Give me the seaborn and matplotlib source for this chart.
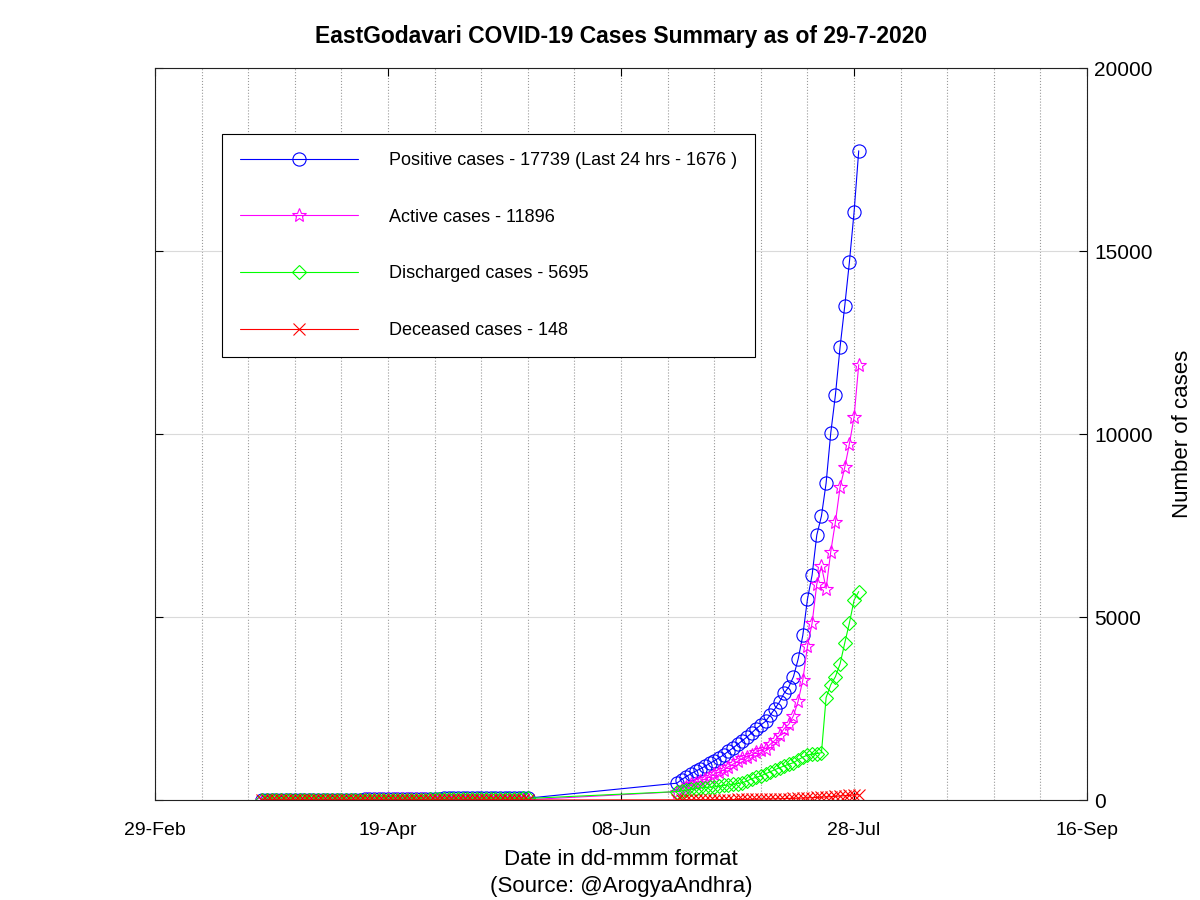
import numpy as np
import pandas as pd
import matplotlib
matplotlib.use("Agg")
import matplotlib.pyplot as plt
import matplotlib.dates as mdates
import seaborn as sns

# ── Données ─────────────────────────────────────────────────────────────
# deux périodes : 23-Mar -> 19-May, puis 20-Jun -> 29-Jul (rien entre les deux)
early_dates = pd.date_range("2020-03-23", "2020-05-19", freq="D")
late_dates = pd.date_range("2020-06-20", "2020-07-29", freq="D")

positive = [
    # 23-31 Mar
    1, 1, 1, 1, 1, 1, 1, 1, 9,
    # Apr
    9, 9, 11, 11, 11, 11, 11, 11, 11, 11, 12, 12, 12, 17, 17, 17, 17, 17, 24, 26,
    26, 31, 32, 34, 34, 37, 39, 39, 39, 40,
    # 1-19 May
    42, 42, 42, 44, 45, 45, 46, 46, 46, 46, 46, 46, 46, 47, 48, 48, 49, 49, 51,
    # 20-30 Jun
    460, 560, 640, 720, 790, 850, 920, 1000, 1070, 1150, 1230,
    # 1-29 Jul
    1330, 1420, 1520, 1620, 1720, 1830, 1950, 2050, 2150, 2320,
    2490, 2680, 2920, 3090, 3370, 3850, 4500, 5490, 6150, 7240,
    7760, 8660, 10030, 11070, 12380, 13500, 14700, 16063, 17739,
]
active = [
    1, 1, 1, 1, 1, 1, 1, 1, 9,
    9, 9, 11, 11, 11, 11, 11, 11, 11, 11, 12, 12, 12, 16, 16, 16, 15, 15, 21, 23,
    22, 27, 26, 26, 26, 27, 27, 25, 23, 22,
    22, 20, 18, 18, 17, 15, 15, 14, 13, 12, 11, 10, 9, 9, 8, 8, 8, 7, 8,
    226, 306, 365, 425, 474, 514, 573, 642, 702, 761, 820,
    909, 978, 1056, 1135, 1183, 1231, 1309, 1367, 1404, 1522,
    1629, 1766, 1952, 2069, 2305, 2701, 3276, 4202, 4836, 5900,
    6393, 5776, 6788, 7599, 8550, 9091, 9732, 10465, 11896,
]
discharged = [
    0, 0, 0, 0, 0, 0, 0, 0, 0,
    0, 0, 0, 0, 0, 0, 0, 0, 0, 0, 0, 0, 0, 1, 1, 1, 2, 2, 3, 3,
    4, 4, 6, 8, 8, 10, 12, 14, 16, 18,
    20, 22, 24, 26, 28, 30, 31, 32, 33, 34, 35, 36, 37, 38, 40, 40, 41, 42, 43,
    230, 250, 270, 290, 310, 330, 340, 350, 360, 380, 400,
    410, 430, 450, 470, 520, 580, 620, 660, 720, 770,
    830, 880, 930, 980, 1020, 1100, 1170, 1230, 1250, 1270,
    1290, 2800, 3150, 3370, 3720, 4290, 4840, 5460, 5695,
]
deceased = [
    0, 0, 0, 0, 0, 0, 0, 0, 0,
    0, 0, 0, 0, 0, 0, 0, 0, 0, 0, 0, 0, 0, 0, 0, 0, 0, 0, 0, 0,
    0, 0, 0, 0, 0, 0, 0, 0, 0, 0,
    0, 0, 0, 0, 0, 0, 0, 0, 0, 0, 0, 0, 0, 0, 0, 0, 0, 0, 0,
    4, 4, 5, 5, 6, 6, 7, 8, 8, 9, 10,
    11, 12, 14, 15, 17, 19, 21, 23, 26, 28,
    31, 34, 38, 41, 45, 49, 54, 58, 64, 70,
    77, 84, 92, 101, 110, 119, 128, 138, 148,
]

labels = [
    "Positive cases - 17739 (Last 24 hrs - 1676 )",
    "Active cases - 11896",
    "Discharged cases - 5695",
    "Deceased cases - 148",
]

df = pd.DataFrame({
    "date": early_dates.append(late_dates),
    "positive": positive,
    "active": active,
    "discharged": discharged,
    "deceased": deceased,
})

# ── Style ───────────────────────────────────────────────────────────────
sns.set_style("white")
plt.rcParams["font.family"] = ["Liberation Sans", "DejaVu Sans"]
plt.rcParams["text.color"] = "black"
plt.rcParams["axes.labelcolor"] = "black"
plt.rcParams["xtick.color"] = "black"
plt.rcParams["ytick.color"] = "black"

fig = plt.figure(figsize=(12, 9), dpi=100)
ax = fig.add_axes([0.1292, 0.1111, 0.7767, 0.8133])

series = [
    ("positive", labels[0], "#0000ff", "o", 9.5),
    ("active", labels[1], "#ff00ff", "*", 10.5),
    ("discharged", labels[2], "#00ff00", "D", 7.5),
    ("deceased", labels[3], "#ff0000", "x", 8.5),
]
for col, lab, color, marker, ms in series:
    sns.lineplot(data=df, x="date", y=col, ax=ax, color=color, marker=marker,
                 markersize=ms, mfc="none", mec=color, mew=0.8, lw=0.8,
                 label=lab)

# ── Axes ────────────────────────────────────────────────────────────────
ax.set_xlim(pd.Timestamp("2020-02-29"), pd.Timestamp("2020-09-16"))
ax.set_ylim(0, 20000)
ax.set_xticks(pd.date_range("2020-02-29", periods=5, freq="50D"))
ax.set_xticks(pd.date_range("2020-02-29", "2020-09-16", freq="10D"), minor=True)
ax.xaxis.set_major_formatter(mdates.DateFormatter("%d-%b"))
ax.set_yticks([0, 5000, 10000, 15000, 20000])

ax.grid(axis="x", which="both", linestyle=":", color="#9a9a9a", lw=0.8)
ax.grid(axis="y", which="major", linestyle="-", color="#dadada", lw=0.8)

ax.yaxis.tick_right()
ax.yaxis.set_label_position("right")
ax.tick_params(which="major", direction="in", top=True, bottom=True,
               left=True, right=True, labelleft=False, labelright=True,
               length=6, width=0.8, color="black")
ax.tick_params(which="minor", length=0)
ax.tick_params(axis="x", labelsize=14, pad=16)
ax.tick_params(axis="y", labelsize=15, pad=5)

for sp in ax.spines.values():
    sp.set_color("#222222")
    sp.set_linewidth(0.8)

ax.set_xlabel("Date in dd-mmm format\n(Source: @ArogyaAndhra)", fontsize=16,
              labelpad=7, linespacing=1.35)
ax.set_ylabel("Number of cases", fontsize=16, labelpad=14)
ax.set_title("EastGodavari COVID-19 Cases Summary as of 29-7-2020",
             fontsize=16.5, fontweight="bold", pad=18)

leg = ax.legend(loc="upper left", bbox_to_anchor=(0.072, 0.91), borderaxespad=0,
                frameon=True, fancybox=False, edgecolor="black", framealpha=1,
                handlelength=6.5, handletextpad=1.75, labelspacing=2.2,
                borderpad=1.0, fontsize=13)
leg.get_frame().set_linewidth(0.8)

fig.savefig("out.png", dpi=100)
